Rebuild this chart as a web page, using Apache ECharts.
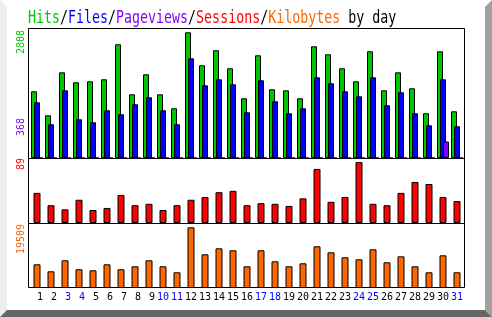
<!DOCTYPE html>
<html><head><meta charset="utf-8">
<script src="https://cdn.jsdelivr.net/npm/echarts@6/dist/echarts.min.js"></script>
<style>html,body{margin:0;padding:0;background:#fff}#c{width:492px;height:317px}</style>
</head><body><div id="c"></div>
<script>
const days = ['1','2','3','4','5','6','7','8','9','10','11','12','13','14','15','16','17','18','19','20','21','22','23','24','25','26','27','28','29','30','31'];
const weekendDays = ['3','4','10','11','17','18','24','25','31'];
const hits = [1490, 954, 1914, 1691, 1713, 1758, 2540, 1423, 1870, 1423, 1110, 2808, 2071, 2406, 2004, 1334, 2294, 1535, 1512, 1334, 2495, 2317, 2004, 1713, 2384, 1512, 1914, 1557, 999, 2384, 1043];
const files = [1244, 753, 1512, 865, 798, 1066, 976, 1200, 1356, 1066, 753, 2227, 1624, 1758, 1646, 1021, 1736, 1267, 999, 1110, 1803, 1669, 1490, 1378, 1803, 1177, 1468, 999, 731, 1758, 708];
const pageviews = [0,0,0,0,0,0,0,0,0,0,0,0,0,0,0,0,0,0,0,0,0,0,0,0,0,0,0,0,0,368,0];
const sessions = [44, 26, 20, 34, 19, 22, 41, 26, 28, 19, 26, 34, 38, 45, 47, 26, 29, 28, 25, 36, 79, 31, 38, 89, 28, 26, 44, 60, 57, 38, 32];
const kbytes = [7617, 5367, 8903, 6010, 5689, 7617, 6010, 6974, 8903, 6974, 5046, 19509, 10831, 12760, 12117, 6974, 12117, 8581, 6974, 7939, 13402, 11474, 9867, 9224, 12438, 8260, 10188, 6974, 5046, 10510, 5046];

const C = {hits:'#00c800', files:'#0000ff', pages:'#8000ff', sessions:'#ff0000', kb:'#ff6600'};
const mono = '"DejaVu Sans Mono", monospace';
const chart = echarts.init(document.getElementById('c'), null, {renderer:'canvas'});

const maxHits = Math.max(...hits), maxPages = Math.max(...pageviews), maxSess = Math.max(...sessions), maxKb = Math.max(...kbytes);

function bar(name, data, color, xi, w, gap) {
  return {type:'bar', name, data, xAxisIndex:xi, yAxisIndex:xi, barWidth:w, barGap:gap,
    itemStyle:{color, borderColor:'#000', borderWidth:1}, silent:true};
}
function rich(k, c){ return {fill:c, color:c, fontFamily:mono, fontSize:13.3}; }

const option = {
  animation:false,
  backgroundColor:'#fff',
  grid:[{left:30,width:434,top:28,height:130},{left:30,width:434,top:158,height:65},{left:30,width:434,top:223,height:65}],
  xAxis:[0,1,2].map(i=>({type:'category', gridIndex:i, data:days,
    axisLine:{show:false}, axisTick:{show:false}, splitLine:{show:false},
    axisLabel:{show:i===2, interval:0, margin:4, hideOverlap:false,
      formatter:(v)=>{const s = v.length<2 ? ' '+v : v; return (weekendDays.includes(v)?'{w|':'{d|')+s+'}';},
      rich:{w:{color:'#0000ff',fontFamily:mono,fontSize:10},d:{color:'#000',fontFamily:mono,fontSize:10}}}})),
  yAxis:[{gridIndex:0,min:0,max:2904,show:false},{gridIndex:1,min:0,max:95,show:false},{gridIndex:2,min:0,max:20900,show:false}],
  series:[
    bar('Hits', hits, C.hits, 0, 6, '-50%'),
    bar('Files', files, C.files, 0, 6, '-50%'),
    bar('Pageviews', pageviews, C.pages, 0, 6, '-50%'),
    bar('Sessions', sessions, C.sessions, 1, 7, '0%'),
    bar('Kilobytes', kbytes, C.kb, 2, 7, '0%')
  ],
  graphic:[
    {type:'polygon', z:0, shape:{points:[[0,0],[7,7],[7,310],[0,317]]}, style:{fill:'#eeeeee'}},
    {type:'polygon', z:0, shape:{points:[[492,0],[485,7],[485,310],[492,317]]}, style:{fill:'#a0a0a0'}},
    {type:'polygon', z:0, shape:{points:[[0,317],[7,310],[485,310],[492,317]]}, style:{fill:'#666666'}},
    {type:'rect', z:100, shape:{x:28.5,y:28.5,width:436,height:259}, style:{fill:null, stroke:'#000', lineWidth:1}},
    {type:'line', z:100, shape:{x1:28,y1:158.5,x2:465,y2:158.5}, style:{stroke:'#000', lineWidth:1}},
    {type:'line', z:100, shape:{x1:28,y1:223.5,x2:465,y2:223.5}, style:{stroke:'#000', lineWidth:1}},
    {type:'text', z:100, x:28, y:18, scaleY:1.37, style:{
      text:'{h|Hits}/{f|Files}/{p|Pageviews}/{s|Sessions}/{k|Kilobytes} by day',
      rich:{h:rich('h',C.hits), f:rich('f',C.files), p:rich('p',C.pages), s:rich('s',C.sessions), k:rich('k',C.kb)},
      fontFamily:mono, fontSize:13.3, fill:'#000', verticalAlign:'middle', align:'left'}},
    {type:'text', z:100, x:21.7, y:30, rotation:Math.PI/2, style:{text:String(maxHits), fill:C.hits, fontFamily:mono, fontSize:10, align:'right', verticalAlign:'middle'}},
    {type:'text', z:100, x:21.7, y:118, rotation:Math.PI/2, style:{text:String(maxPages), fill:C.pages, fontFamily:mono, fontSize:10, align:'right', verticalAlign:'middle'}},
    {type:'text', z:100, x:21.7, y:158, rotation:Math.PI/2, style:{text:String(maxSess), fill:C.sessions, fontFamily:mono, fontSize:10, align:'right', verticalAlign:'middle'}},
    {type:'text', z:100, x:21.7, y:224, rotation:Math.PI/2, style:{text:String(maxKb), fill:C.kb, fontFamily:mono, fontSize:10, align:'right', verticalAlign:'middle'}}
  ]
};
chart.setOption(option);
</script></body></html>
